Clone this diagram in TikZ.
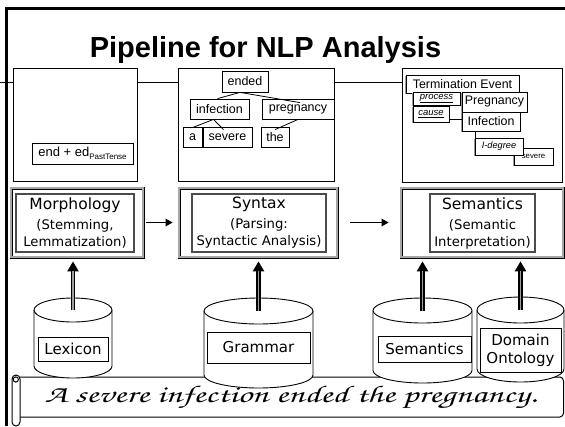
\documentclass[tikz,border=0pt]{standalone}
\usepackage{fontspec}
\usepackage{graphicx}
\setmainfont{Liberation Sans}
\newfontfamily\vfont{DejaVu Sans}
\newfontfamily\handfont{TeX Gyre Chorus}
\usetikzlibrary{arrows.meta,shadows,calc}

% database cylinder: name of top-centre coordinate, centre x, half width, top y, bottom y, ellipse y radius
\newcommand\dbcyl[6]{%
  \filldraw[cylline] (#2-#3,#4) -- (#2-#3,#5)
     arc[start angle=180,end angle=360,x radius=#3pt,y radius=#6pt]
     -- (#2+#3,#4)
     arc[start angle=0,end angle=180,x radius=#3pt,y radius=#6pt] -- cycle;
  \draw[cylline] (#2+#3,#4) arc[start angle=0,end angle=-180,x radius=#3pt,y radius=#6pt];
  \coordinate (#1) at (#2,#4);
}
\newcommand\stagehead[1]{{\fontsize{15.5}{19}\selectfont #1}}

\tikzset{
  panel/.style={draw=black, line width=0.9pt, fill=white, inner sep=0pt},
  treebox/.style={draw=black, line width=0.8pt, fill=white, inner sep=0pt,
                  font=\fontsize{12.5}{14}\selectfont},
  treeline/.style={draw=black, line width=0.8pt},
  sembox/.style={draw=black, line width=0.8pt, fill=white, inner sep=0pt,
                 font=\fontsize{12.4}{14}\selectfont,
                 drop shadow={shadow xshift=-1.2pt, shadow yshift=-1.2pt, fill=gray!80, opacity=1}},
  roleit/.style={font=\fontsize{9.5}{11}\selectfont\itshape},
  stageout/.style={draw=black, line width=0.8pt, double=gray!70, double distance=1.4pt,
                   fill=white, inner sep=0pt},
  stagein/.style={draw=black!70, line width=1.1pt, fill=white, inner sep=0pt, align=center,
                  font=\vfont\fontsize{13.2}{17}\selectfont},
  rarrow/.style={draw=black, line width=1.3pt, -{Triangle[length=7pt,width=7.5pt]}},
  upshaft/.style={draw=black, line width=4.2pt, -{Triangle[length=10pt,width=11pt]}},
  upcore/.style={draw=gray!75, line width=1.6pt, shorten >=10pt},
  cylline/.style={draw=black, fill=white, line width=0.9pt},
  lbl/.style={draw=black, line width=0.9pt, fill=white, inner sep=0pt,
              font=\vfont\fontsize{15}{18}\selectfont},
  scrollline/.style={draw=black, line width=1pt}
}

\begin{document}
\begin{tikzpicture}[x=1pt,y=1pt]
\useasboundingbox (0,0) rectangle (565,-426);
\fill[white] (0,0) rectangle (565,-426);

% horizontal rule running behind the top panels
\coordinate (ruleL) at (0,-82.5);
\coordinate (ruleR) at (402,-82.5);
\draw[line width=0.9pt] (ruleL) -- (ruleR);

% slide frame
\draw[line width=2.8pt, line join=miter] (6.7,-426) -- (6.7,-8.4) -- (565,-8.4);

% title
\node[anchor=base, inner sep=0pt, font=\bfseries\fontsize{29}{34}\selectfont] (title)
  at (265.5,-57) {Pipeline for NLP Analysis};

% ---- top panels ----
\node[panel, minimum width=124pt, minimum height=113pt] (panelA) at (75,-124.5) {};
\node[panel, minimum width=156pt, minimum height=113pt] (panelB) at (256,-124.5) {};
\node[panel, minimum width=160pt, minimum height=114pt] (panelC) at (482,-125) {};

% morphology result
\node[treebox, minimum width=101pt, minimum height=21pt] (stem) at (82.5,-153.5)
  {{\fontsize{13}{14}\selectfont end + ed}\raisebox{-3pt}{\fontsize{8}{9}\selectfont PastTense}};

% parse tree
\node[treebox, minimum width=46pt, minimum height=21pt] (ended) at (245,-81.5) {ended};
\node[treebox, minimum width=59pt, minimum height=20pt] (infection) at (219.5,-109) {infection};
\node[treebox, minimum width=72pt, minimum height=20pt] (pregnancy) at (298,-109) {pregnancy};
\node[treebox, minimum width=19pt, minimum height=20pt] (wa) at (192.5,-137) {a};
\node[treebox, minimum width=49pt, minimum height=20pt] (severe) at (227.5,-137) {severe};
\node[treebox, minimum width=28pt, minimum height=20pt] (the) at (275,-137) {the};
\draw[treeline] ([xshift=-5pt]ended.south) -- ([xshift=-2pt]infection.north);
\draw[treeline] ([xshift=-5pt]ended.south) -- ([xshift=2pt,yshift=-4pt]pregnancy.north);
\draw[treeline] ([xshift=-6pt]infection.south) -- ([yshift=-1pt]wa.north);
\draw[treeline] ([xshift=-6pt]infection.south) -- ([xshift=-4pt,yshift=-3pt]severe.north);
\draw[treeline] (pregnancy.south) -- ([yshift=-3pt]the.north);

% semantic frame
\node[sembox, minimum width=113pt, minimum height=18pt] (term) at (462.5,-84) {Termination Event};
\node[sembox, roleit, minimum width=47pt, minimum height=13pt] (process) at (436.5,-98.5) {\underline{process}};
\node[sembox, roleit, minimum width=36pt, minimum height=16pt] (cause) at (431,-114) {\underline{cause}};
\node[sembox, minimum width=65pt, minimum height=20pt] (Preg) at (494.5,-102) {Pregnancy};
\node[sembox, minimum width=58pt, minimum height=19pt] (Inf) at (491,-121.5) {Infection};
\node[sembox, font=\fontsize{7.8}{9}\selectfont, minimum width=39pt, minimum height=17pt] (sev) at (533.5,-156.5) {severe};
\node[sembox, font=\fontsize{9.2}{11}\selectfont\itshape, minimum width=48pt, minimum height=17pt] (deg) at (499,-146.5) {I-degree};
\draw[treeline] ([yshift=-5pt]cause.east) -- ([yshift=2.5pt]Inf.west);
\draw[treeline] ([xshift=-16pt]Inf.south) -- ([xshift=-24pt]deg.north);

% ---- processing stages ----
\node[stageout, minimum width=132pt, minimum height=69pt] (morphbox) at (77,-222.5) {};
\node[stagein, minimum width=118pt, minimum height=58pt] (morph) at (75,-223)
  {\stagehead{Morphology}\\[3pt](Stemming,\\Lemmatization)};
\node[stageout, minimum width=158pt, minimum height=69pt] (synbox) at (258,-222.5) {};
\node[stagein, minimum width=134pt, minimum height=58pt] (syn) at (259,-223)
  {\stagehead{Syntax}\\[3pt](Parsing:\\Syntactic Analysis)};
\node[stageout, minimum width=162pt, minimum height=69pt] (sembox) at (482,-222.5) {};
\node[stagein, minimum width=105pt, minimum height=58pt] (sem) at (482.5,-223)
  {\stagehead{Semantics}\\[3pt](Semantic\\Interpretation)};

\draw[rarrow] ([xshift=3pt]morphbox.east) -- ([xshift=-6pt]synbox.west);
\draw[rarrow] ([xshift=13pt]synbox.east) -- ([xshift=-12pt]sembox.west);

% ---- sentence scroll ----
\draw[scrollline, fill=white] (19,-377) -- (560,-377)
   to[out=0,in=90] (563.5,-381) -- (563.5,-413) to[out=-90,in=0] (560,-417) -- (19,-417);
\draw[scrollline, fill=white, rounded corners=4pt] (12,-375) rectangle (20,-426);
\draw[scrollline] (15.8,-379.5) circle[radius=2.6pt];
\node[anchor=base, inner sep=0pt, font=\handfont\fontsize{24}{24}\selectfont] (sentence)
  at (291,-402) {\resizebox{492pt}{\height}{A severe infection ended the pregnancy.}};

% ---- knowledge sources ----
\dbcyl{lexTop}{73}{39}{-310}{-366}{12}
\dbcyl{gramTop}{258.5}{54.5}{-311}{-375}{13}
\dbcyl{semTop}{422.5}{49.5}{-310.5}{-370.5}{12.5}
\dbcyl{ontTop}{520.5}{43.5}{-310}{-369}{13}

\node[lbl, minimum width=70pt, minimum height=24pt] (lexicon) at (73,-349) {Lexicon};
\node[lbl, minimum width=103pt, minimum height=31pt] (grammar) at (258.5,-347.5) {\raisebox{-2.5pt}{Grammar}};
\node[lbl, minimum width=93pt, minimum height=26pt] (semantics) at (424.5,-349) {Semantics};
\node[lbl, minimum width=81pt, minimum height=44pt, align=center] (ontology) at (520.5,-350) {Domain\\Ontology};

% resources feeding the stages
\foreach \src/\dst in {lexTop/morphbox, gramTop/synbox, semTop/sembox, ontTop/sembox}{
  \draw[upshaft] (\src) -- ([yshift=-4pt]\src |- \dst.south);
  \draw[upcore] (\src) -- ([yshift=-4pt]\src |- \dst.south);
}
\end{tikzpicture}
\end{document}
